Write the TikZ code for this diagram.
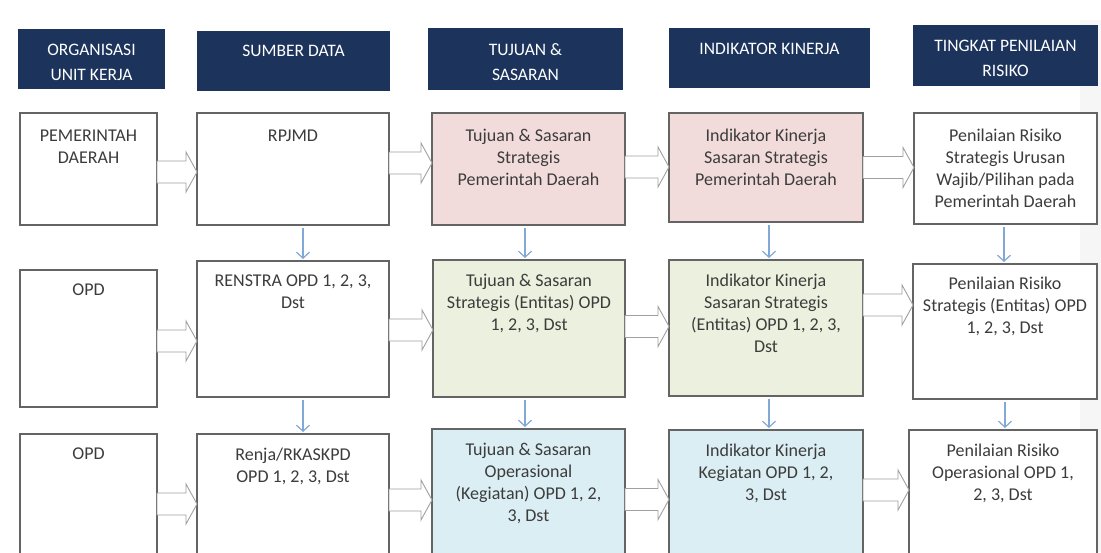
\documentclass[tikz,border=0pt]{standalone}
\usepackage{fontspec}
\setmainfont{Carlito}
\usetikzlibrary{arrows.meta,calc}
\definecolor{navy}{RGB}{28,52,92}
\definecolor{pinkf}{RGB}{242,220,219}
\definecolor{greenf}{RGB}{235,241,222}
\definecolor{bluef}{RGB}{219,238,243}
\definecolor{boxline}{RGB}{100,100,100}
\definecolor{arrgray}{RGB}{160,160,160}
\definecolor{arrblue}{RGB}{130,168,214}
\definecolor{txtc}{RGB}{60,60,60}
\tikzset{
  hdr/.style 2 args={fill=navy, draw=none, minimum width=#1pt, minimum height=#2pt, anchor=north west, inner sep=0pt, outer sep=0pt},
  box/.style 2 args={draw=boxline, line width=1.1pt, minimum width=#1pt, minimum height=#2pt, anchor=north west, inner sep=0pt, outer sep=0pt},
  htxt/.style={anchor=north, inner sep=0pt, align=center, text=white, font=\fontsize{17.5}{25}\selectfont},
  btxt/.style={anchor=north, inner sep=0pt, align=center, text=txtc, font=\fontsize{18}{22}\selectfont},
  blk/.style={draw=arrgray, fill=white, line width=0.9pt, line join=miter,
    to path={let \p1=(\tikztostart), \p2=(\tikztotarget) in
      (\x1,\y1+11pt) -- (\x2-11pt,\y1+11pt) -- (\x2-11pt,\y1+20pt) -- (\x2,\y1)
      -- (\x2-11pt,\y1-20pt) -- (\x2-11pt,\y1-11pt) -- (\x1,\y1-11pt) -- cycle}},
  varr/.style={draw=arrblue, line width=1.2pt, -{Straight Barb[length=6pt,width=13pt,line width=1.2pt]}, shorten <=3pt, shorten >=2pt}
}
\begin{document}
\begin{tikzpicture}[x=1pt,y=-1pt]
\clip (0,0) rectangle (1101,552);
\fill[white] (0,0) rectangle (1101,552);
\fill[gray!7] (1080,20) rectangle (1101,552);
% headers
\node[hdr={147}{60}] (h1) at (18,29) {};
\node[hdr={193}{60}] (h2) at (197,31) {};
\node[hdr={195}{62}] (h3) at (428,28) {};
\node[hdr={201}{60}] (h4) at (669,28) {};
\node[hdr={185}{61}] (h5) at (913,25) {};
\node[htxt] (ht1) at ([yshift=-15pt]h1.north) {ORGANISASI\\UNIT KERJA};
\node[htxt] (ht2) at ([yshift=-14pt]h2.north) {SUMBER DATA};
\node[htxt] (ht3) at ([yshift=-15pt]h3.north) {TUJUAN \&\\SASARAN};
\node[htxt] (ht4) at ([yshift=-15pt]h4.north) {INDIKATOR KINERJA};
\node[htxt] (ht5) at ([yshift=-15pt]h5.north) {TINGKAT PENILAIAN\\RISIKO};
% row 1
\node[box={137}{112}] (b11) at (20,113) {};
\node[box={192}{112}] (b12) at (197,113) {};
\node[box={193}{112},fill=pinkf] (b13) at (432,113) {};
\node[box={194}{109},fill=pinkf] (b14) at (669,113) {};
\node[box={183}{111},fill=white] (b15) at (914,113) {};
% row 2
\node[box={137}{137}] (b21) at (20,270) {};
\node[box={192}{136}] (b22) at (197,261) {};
\node[box={192}{137},fill=greenf] (b23) at (433,260) {};
\node[box={194}{136},fill=greenf] (b24) at (669,260) {};
\node[box={184}{135},fill=white] (b25) at (913,264) {};
% row 3
\node[box={137}{126}] (b31) at (20,434) {};
\node[box={192}{126}] (b32) at (197,434) {};
\node[box={193}{131},fill=bluef] (b33) at (432,429) {};
\node[box={194}{130},fill=bluef] (b34) at (669,430) {};
\node[box={188}{130},fill=white] (b35) at (909,430) {};
% texts
\node[btxt] (t11) at ([yshift=-17pt]b11.north) {PEMERINTAH\\DAERAH};
\node[btxt] (t12) at ([yshift=-17pt]b12.north) {RPJMD};
\node[btxt] (t13) at ([yshift=-16pt]b13.north) {Tujuan \& Sasaran\\Strategis\\Pemerintah Daerah};
\node[btxt] (t14) at ([yshift=-16pt]b14.north) {Indikator Kinerja\\Sasaran Strategis\\Pemerintah Daerah};
\node[btxt] (t15) at ([yshift=-16pt]b15.north) {Penilaian Risiko\\Strategis Urusan\\Wajib/Pilihan pada\\Pemerintah Daerah};
\node[btxt] (t21) at ([yshift=-14pt]b21.north) {OPD};
\node[btxt] (t22) at ([yshift=-14pt]b22.north) {RENSTRA OPD 1, 2, 3,\\Dst};
\node[btxt] (t23) at ([yshift=-14pt]b23.north) {Tujuan \& Sasaran\\Strategis (Entitas) OPD\\1, 2, 3, Dst};
\node[btxt] (t24) at ([yshift=-14pt]b24.north) {Indikator Kinerja\\Sasaran Strategis\\(Entitas) OPD 1, 2, 3,\\Dst};
\node[btxt] (t25) at ([yshift=-13pt]b25.north) {Penilaian Risiko\\Strategis (Entitas) OPD\\1, 2, 3, Dst};
\node[btxt] (t31) at ([yshift=-14pt]b31.north) {OPD};
\node[btxt] (t32) at ([yshift=-14pt]b32.north) {Renja/RKASKPD\\OPD 1, 2, 3, Dst};
\node[btxt] (t33) at ([yshift=-14pt]b33.north) {Tujuan \& Sasaran\\Operasional\\(Kegiatan) OPD 1, 2,\\3, Dst};
\node[btxt] (t34) at ([yshift=-14pt]b34.north) {Indikator Kinerja\\Kegiatan OPD 1, 2,\\3, Dst};
\node[btxt] (t35) at ([yshift=-14pt]b35.north) {Penilaian Risiko\\Operasional OPD 1,\\2, 3, Dst};
% horizontal block arrows
\draw[blk] ([yshift=-3pt]b11.east) to (b12.west);
\draw[blk] ([yshift=6pt]b12.east) to (b13.west);
\draw[blk] ([yshift=2pt]b13.east) to (b14.west);
\draw[blk] ([yshift=0pt]b14.east) to (b15.west);
\draw[blk] ([yshift=-2.5pt]b21.east) to (b22.west);
\draw[blk] ([yshift=-1pt]b22.east) to (b23.west);
\draw[blk] ([yshift=2pt]b23.east) to (b24.west);
\draw[blk] ([yshift=23pt]b24.east) to (b25.west);
\draw[blk] ([yshift=-7pt]b31.east) to (b32.west);
\draw[blk] ([yshift=-3pt]b32.east) to (b33.west);
\draw[blk] ([yshift=-5pt]b33.east) to (b34.west);
\draw[blk] ([yshift=5pt]b34.east) to (b35.west);
% vertical arrows
\draw[varr] ([xshift=10pt]b12.south) -- ([xshift=10pt]b12.south |- b22.north);
\draw[varr] ([xshift=-3.5pt]b13.south) -- ([xshift=-3.5pt]b13.south |- b23.north);
\draw[varr] ([xshift=3pt]b14.south) -- ([xshift=3pt]b14.south |- b24.north);
\draw[varr] ([xshift=-1.5pt]b15.south) -- ([xshift=-1.5pt]b15.south |- b25.north);
\draw[varr] ([xshift=10pt]b22.south) -- ([xshift=10pt]b22.south |- b32.north);
\draw[varr] ([xshift=-4pt]b23.south) -- ([xshift=-4pt]b23.south |- b33.north);
\draw[varr] ([xshift=3pt]b24.south) -- ([xshift=3pt]b24.south |- b34.north);
\draw[varr] (b25.south) -- (b25.south |- b35.north);
\end{tikzpicture}
\end{document}
